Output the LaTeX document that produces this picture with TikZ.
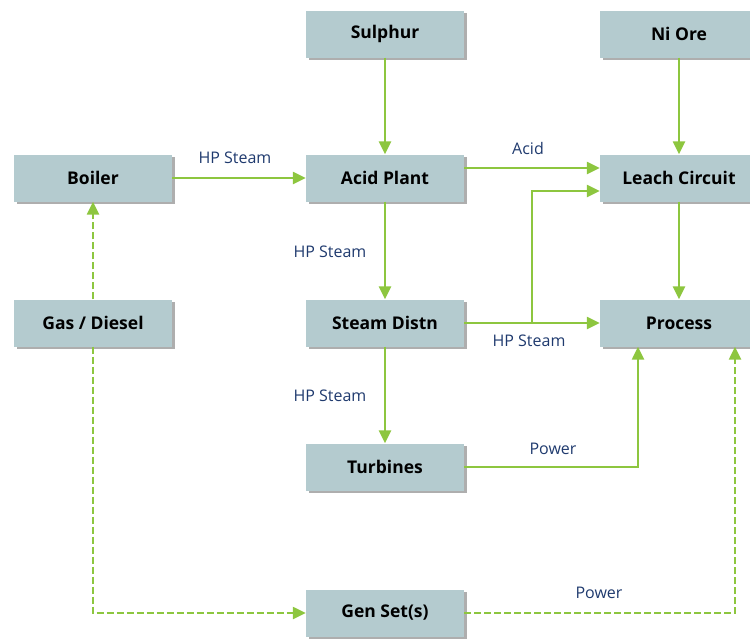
\documentclass[tikz,border=0pt]{standalone}
\usepackage{fontspec}
\setmainfont{Open Sans}
\usetikzlibrary{arrows.meta,shadows}
\definecolor{boxfill}{HTML}{B4CBCF}
\definecolor{flow}{HTML}{8DC63F}
\definecolor{lbl}{HTML}{1F3A6E}
\tikzset{
  unit/.style={draw=none, fill=boxfill, minimum width=158pt, minimum height=47pt,
    font=\fontsize{17.5}{20}\selectfont\bfseries, text=black,
    drop shadow={shadow xshift=2.5pt, shadow yshift=-2.5pt, opacity=0.45, fill=black!70}},
  flowline/.style={draw=flow, line width=2.4pt, -{Triangle[length=13pt,width=12pt]}},
  dashflow/.style={flowline, dash pattern=on 7pt off 3pt},
  lab/.style={text=lbl, font=\fontsize{16}{18}\selectfont, inner sep=0pt}
}
\begin{document}
\begin{tikzpicture}[x=1pt,y=-1pt]
\useasboundingbox (0,0) rectangle (750,641);
\begin{scope}
\clip (0,0) rectangle (750,641);
\node[unit] (sul) at (385,34) {Sulphur};
\node[unit] (ni) at (679,34) {Ni Ore};
\node[unit] (boil) at (93,178) {Boiler};
\node[unit] (acid) at (385,178) {Acid Plant};
\node[unit] (leach) at (679,178) {Leach Circuit};
\node[unit] (gas) at (93,323) {Gas / Diesel};
\node[unit] (steam) at (385,323) {Steam Distn};
\node[unit] (proc) at (679,323) {Process};
\node[unit] (turb) at (385,467) {Turbines};
\node[unit] (gen) at (385,613) {Gen Set(s)};
\end{scope}
\coordinate (j1) at (532,323);
\draw[flowline] (boil) -- (acid);
\draw[flowline] (sul) -- (acid);
\draw[flowline] (ni) -- (leach);
\draw[flowline] (acid.east |- 0,168) -- (leach.west |- 0,168);
\draw[flowline] (acid) -- (steam);
\draw[flowline] (steam) -- (proc);
\draw[flowline] (j1) |- (leach.west |- 0,191);
\draw[flowline] (leach) -- (proc);
\draw[flowline] (steam) -- (turb);
\draw[flowline] (turb) -| (proc.south -| 638,0);
\draw[dashflow] (gas) -- (boil);
\draw[dashflow] (gas) |- (gen);
\draw[dashflow] (gen) -| (proc.south -| 735,0);
\node[lab] (l1) at (235,158) {HP Steam};
\node[lab] (l2) at (528,148) {Acid};
\node[lab] (l3) at (330,252) {HP Steam};
\node[lab] (l4) at (529,341) {HP Steam};
\node[lab] (l5) at (330,396) {HP Steam};
\node[lab] (l6) at (553,449) {Power};
\node[lab] (l7) at (599,593) {Power};
\end{tikzpicture}
\end{document}
